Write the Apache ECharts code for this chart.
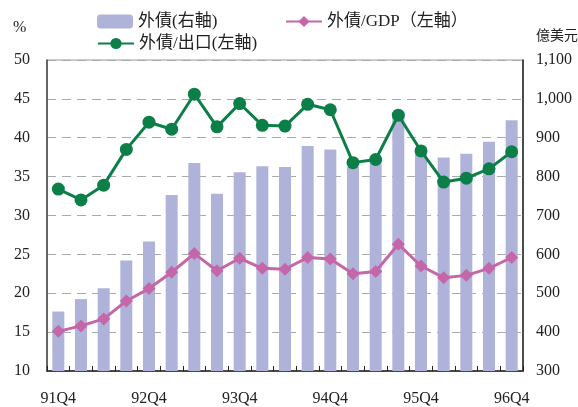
<!DOCTYPE html>
<html><head><meta charset="utf-8">
<script src="https://cdn.jsdelivr.net/npm/echarts@6/dist/echarts.min.js"></script>
<style>html,body{margin:0;padding:0;background:#fff}#c{width:578px;height:407px}</style>
</head><body><div id="c"></div>
<script>
const categories = ['91Q4','92Q1','92Q2','92Q3','92Q4','93Q1','93Q2','93Q3','93Q4','94Q1','94Q2','94Q3','94Q4','95Q1','95Q2','95Q3','95Q4','96Q1','96Q2','96Q3','96Q4'];
const debtBar = [453,485,513,584,633,753,835,756,811,827,825,879,870,825,836,962,862,849,859,890,945];
const debtGDP = [15.1,15.8,16.7,19.0,20.6,22.7,25.1,22.9,24.5,23.2,23.1,24.6,24.4,22.5,22.8,26.3,23.5,22.0,22.3,23.2,24.6];
const debtExport = [33.4,32.0,33.9,38.5,42.0,41.1,45.6,41.4,44.4,41.6,41.5,44.3,43.6,36.8,37.2,42.9,38.3,34.3,34.8,36.0,38.2];
const leftTicks = {min:10, max:50, interval:5};
const rightTicks = {min:300, max:1100, interval:100};

const serif = '"Liberation Serif","Noto Sans CJK TC",serif';
const cjk = '"Liberation Serif","Noto Sans CJK TC",serif';
const barColor = '#b0b3d9', green = '#0b7f47', pink = '#c566a8';

const chart = echarts.init(document.getElementById('c'), null, {renderer:'canvas'});
const legendText = {fontFamily: cjk, fontSize: 17, color: '#222'};
chart.setOption({
  animation: false,
  grid: {left: 47, right: 55, top: 60, bottom: 34, show: true, borderColor: '#999', borderWidth: 1},
  legend: [
    {left: 97, top: 13, padding: 0, itemWidth: 36, itemHeight: 14, textStyle: legendText, data: ['外債(右軸)']},
    {left: 285, top: 13, padding: 0, itemWidth: 36, itemHeight: 14, textStyle: legendText, data: ['外債/GDP（左軸）']},
    {left: 97, top: 35, padding: 0, itemWidth: 36, itemHeight: 14, textStyle: legendText, data: ['外債/出口(左軸)']}
  ],
  graphic: [
    {type:'text', left: 13, top: 20, style:{text:'%', font:'16px "Liberation Serif"', fill:'#222'}},
    {type:'text', left: 536, top: 28, style:{text:'億美元', font:'14px "Noto Sans CJK TC"', fill:'#222'}}
  ],
  xAxis: {
    type: 'category', data: categories, boundaryGap: true,
    axisLine: {lineStyle: {color: '#222', width: 1.5}},
    axisTick: {show: true, inside: true, interval: 0, length: 5, lineStyle: {color: '#222'}},
    axisLabel: {interval: 3, margin: 20, fontFamily: serif, fontSize: 16, color: '#222'}
  },
  yAxis: [
    {type: 'value', min: leftTicks.min, max: leftTicks.max, interval: leftTicks.interval,
     axisLine: {show: true, lineStyle: {color: '#444', width: 1.5}},
     axisTick: {show: false},
     axisLabel: {margin: 17, fontFamily: serif, fontSize: 16, color: '#222'},
     splitLine: {show: true, lineStyle: {color: '#aaa', type: [9, 6], width: 1}}},
    {type: 'value', min: rightTicks.min, max: rightTicks.max, interval: rightTicks.interval, position: 'right',
     axisLine: {show: true, lineStyle: {color: '#222', width: 1.5}},
     axisTick: {show: false},
     axisLabel: {margin: 13, fontFamily: serif, fontSize: 16, color: '#222',
       formatter: v => v.toLocaleString('en-US')},
     splitLine: {show: false}}
  ],
  series: [
    {name: '外債(右軸)', type: 'bar', yAxisIndex: 1, data: debtBar, barWidth: 12,
     itemStyle: {color: barColor}},
    {name: '外債/GDP（左軸）', type: 'line', yAxisIndex: 0, data: debtGDP,
     symbol: 'diamond', symbolSize: 13, lineStyle: {color: pink, width: 3},
     itemStyle: {color: pink}},
    {name: '外債/出口(左軸)', type: 'line', yAxisIndex: 0, data: debtExport,
     symbol: 'circle', symbolSize: 13, lineStyle: {color: green, width: 3},
     itemStyle: {color: green}}
  ]
});
</script></body></html>
